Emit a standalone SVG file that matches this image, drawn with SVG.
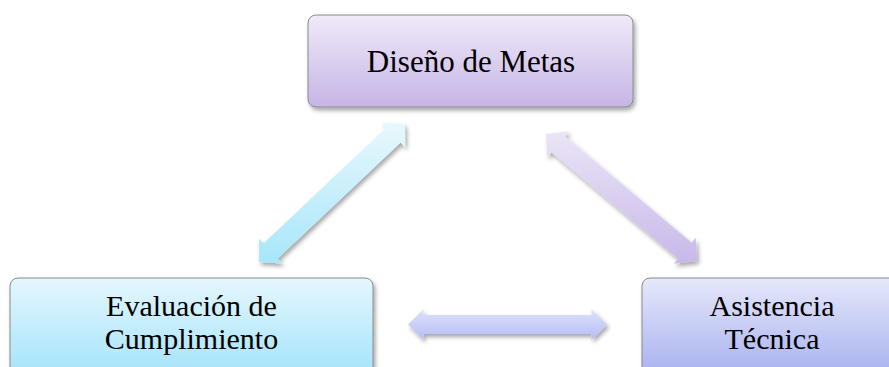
<svg xmlns="http://www.w3.org/2000/svg" width="889" height="367" viewBox="0 0 889 367">
  <defs>
    <linearGradient id="gTop" x1="0" y1="0" x2="0" y2="1">
      <stop offset="0" stop-color="#f0eaf9"/>
      <stop offset="1" stop-color="#c6b5e6"/>
    </linearGradient>
    <linearGradient id="gLeft" x1="0" y1="0" x2="0" y2="1">
      <stop offset="0" stop-color="#e4f7fd"/>
      <stop offset="1" stop-color="#a3e3fa"/>
    </linearGradient>
    <linearGradient id="gRight" x1="0" y1="0" x2="0" y2="1">
      <stop offset="0" stop-color="#e6e8fb"/>
      <stop offset="1" stop-color="#a6b0ef"/>
    </linearGradient>
    <linearGradient id="aLeft" x1="0" y1="0" x2="0" y2="1">
      <stop offset="0" stop-color="#e8f8fd"/>
      <stop offset="1" stop-color="#a8e6fa"/>
    </linearGradient>
    <linearGradient id="aRight" x1="0" y1="0" x2="0" y2="1">
      <stop offset="0" stop-color="#ebe5f6"/>
      <stop offset="1" stop-color="#c8b8ea"/>
    </linearGradient>
    <linearGradient id="aBottom" x1="0" y1="0" x2="0" y2="1">
      <stop offset="0" stop-color="#dfe2fa"/>
      <stop offset="1" stop-color="#b5bcf5"/>
    </linearGradient>
    <filter id="sh" x="-10%" y="-10%" width="130%" height="140%">
      <feDropShadow dx="2" dy="3" stdDeviation="2" flood-color="#000" flood-opacity="0.35"/>
    </filter>
  </defs>
  <style>
    .box { stroke: #8a8a8a; stroke-width: 1; filter: url(#sh); }
    .arr { filter: url(#sh); }
    .lbl { font-family: "Liberation Serif", "Times New Roman", serif; font-size: 31px; fill: #000; text-anchor: middle; }
    .lbl2 { font-family: "Liberation Serif", "Times New Roman", serif; font-size: 30px; fill: #000; text-anchor: middle; }
  </style>
  <rect width="889" height="367" fill="#ffffff"/>

  <g id="connectors">
    <polygon class="arr" fill="url(#aLeft)" points="259,262 282.3,263.4 277.8,258.6 400.6,142.6 405.1,147.4 405,124 381.7,122.6 386.2,127.4 263.4,243.4 258.9,238.6"/>
    <polygon class="arr" fill="url(#aRight)" points="546,134 547.3,157.3 551.4,152.3 678,258.7 673.9,263.7 697,261 695.7,237.7 691.6,242.7 565,136.3 569.1,131.3"/>
    <polygon class="arr" fill="url(#aBottom)" points="408,324.5 423.5,309 423.5,315 591.5,315 591.5,309 607,324.5 591.5,340 591.5,334 423.5,334 423.5,340"/>
  </g>

  <g id="node-diseno">
    <rect class="box" x="308" y="15" width="325" height="92" rx="8" fill="url(#gTop)"/>
    <text class="lbl" x="471" y="72">Diseño de Metas</text>
  </g>

  <g id="node-evaluacion">
    <rect class="box" x="10" y="278" width="363" height="100" rx="8" fill="url(#gLeft)"/>
    <text class="lbl2" x="191.5" y="316">Evaluación de</text>
    <text class="lbl2" x="191.5" y="349">Cumplimiento</text>
  </g>

  <g id="node-asistencia">
    <rect class="box" x="642" y="278" width="260" height="100" rx="8" fill="url(#gRight)"/>
    <text class="lbl2" x="772" y="316">Asistencia</text>
    <text class="lbl2" x="772" y="349">Técnica</text>
  </g>
</svg>
